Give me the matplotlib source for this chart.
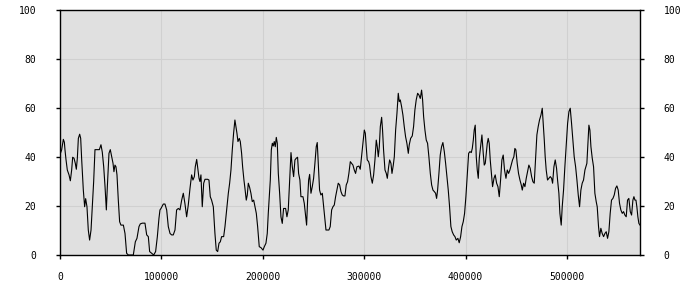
import matplotlib
matplotlib.use("Agg")
import matplotlib.pyplot as plt
import numpy as np

# x positions in thousands
time_k = [
 0, 1.6, 3.3, 4.3, 4.9, 5.9, 7.2, 8.9, 10.2, 11.5, 12.5, 13.8, 15.1, 16.1, 17.1, 18.1, 19.4, 20.4, 21.4, 23.0,
 24.3, 25.3, 26.6, 27.9, 29.2, 30.6, 31.9, 33.2, 34.5, 36.5, 38.8, 40.4, 41.7, 43.1, 44.4, 45.7, 46.7, 48.3, 49.6, 51.0,
 52.3, 53.2, 54.2, 55.2, 56.2, 57.5, 58.8, 60.1, 62.5, 64.1, 65.7, 67.4, 72.3, 74.3, 75.9, 77.9, 79.2, 81.2, 83.8, 85.5,
 87.1, 88.4, 90.4, 92.4, 94.3, 96.0, 97.6,
 98.6, 99.6, 101.9, 103.5, 105.2, 106.8, 108.5, 110.1, 111.7, 113.4, 115.0, 116.7, 118.3, 120.0, 121.6, 123.2, 124.9,
 126.5, 128.2, 129.8, 131.1, 132.5, 133.4, 134.8, 135.7, 137.1, 138.0, 139.0, 140.3, 141.7, 143.0, 145.6, 146.9, 148.2,
 149.5, 151.2, 152.8, 154.1, 155.5, 156.8, 158.1, 159.4, 161.4, 162.7, 164.3, 166.0, 167.3, 168.6, 169.9, 171.2, 172.5,
 173.5, 174.5, 175.5, 176.8, 177.8, 179.1, 180.1, 181.4, 182.4, 183.7, 184.7, 185.7, 187.0, 188.3, 189.6, 191.0, 192.3,
 193.6, 194.9,
 196.5, 198.2, 200.2, 201.5, 203.1, 204.4, 205.4, 206.4, 207.4, 208.4, 209.4, 210.3, 211.3, 212.3, 213.3, 214.3, 215.3,
 216.6, 217.9, 219.2, 220.5, 222.5, 223.8, 225.1, 226.5, 227.8, 229.1, 230.4, 231.7, 233.0, 234.3, 235.3, 236.6, 237.6,
 239.6, 240.9, 242.2, 243.2, 244.2, 245.2, 246.2, 247.5, 248.8, 250.1, 251.4, 252.7, 253.7, 254.7, 256.0, 257.3, 258.7,
 260.0, 261.3, 262.3, 265.2, 266.5, 267.9, 269.2, 270.5, 271.8, 273.1, 274.4, 275.8, 277.1, 278.4, 279.7, 281.0, 282.3,
 283.6, 284.9, 286.3, 287.6, 288.9, 290.2, 291.5,
 292.8, 294.8, 296.1, 297.4, 298.8, 300.1, 301.1, 302.0, 303.0, 304.4, 305.3, 306.6, 308.0, 309.3, 310.6, 311.9, 312.9,
 313.9, 314.9, 315.9, 317.2, 318.1, 319.1, 320.5, 321.8, 322.8, 324.1, 325.1, 326.4, 327.4, 328.7, 329.7, 331.0, 332.3,
 333.6, 334.6, 335.6, 336.9, 338.2, 339.5, 340.8, 342.1, 343.5, 344.4, 345.8, 347.4, 348.7, 350.0, 351.3, 352.7, 354.0,
 355.3, 356.6, 357.6, 358.6, 359.9, 361.2, 362.5, 363.8, 365.2, 366.5, 367.8, 369.1, 370.4, 371.4, 372.4, 373.7, 375.0,
 376.3, 377.6, 379.0, 380.3, 381.6, 382.9, 384.2, 385.5, 386.8, 388.2, 389.5, 390.8,
 392.4, 393.7, 395.1, 396.4, 397.7, 399.0, 400.3, 401.6, 403.0, 404.3, 405.6, 406.6, 407.6, 408.5, 409.5, 410.5, 411.5,
 412.5, 413.5, 414.8, 416.1, 417.4, 418.4, 419.4, 420.4, 421.4, 422.3, 423.3, 424.3, 425.6, 426.6, 428.0, 429.2, 430.6,
 431.9, 433.2, 434.5, 435.8, 437.1, 438.4, 439.8, 441.1, 442.4, 443.7, 445.0, 446.3, 447.6, 448.6, 449.6, 450.9, 452.2,
 453.6, 454.9, 455.9, 457.2, 458.5, 459.8, 461.1, 462.4, 463.7, 465.1, 466.4, 467.7, 469.0, 470.3, 471.6, 472.9, 474.3,
 475.6, 476.6, 477.6, 478.5, 479.5, 480.8, 482.2, 483.5, 484.8, 485.8, 487.1, 488.4, 489.7,
 490.7, 492.0, 493.0, 494.3, 495.3, 496.6, 497.9, 499.2, 500.6, 501.9, 503.2, 504.5, 505.8, 507.1, 508.5, 509.8, 511.1,
 512.4, 513.7, 515.0, 516.3, 517.7, 518.6, 519.6, 520.6, 521.6, 522.6, 523.6, 524.9, 526.2, 527.5, 528.8, 529.8, 531.1,
 532.1, 533.4, 534.7, 536.1, 537.4, 538.7, 540.0, 541.3, 542.6, 543.9, 545.3, 546.6, 547.9, 549.2, 550.5, 551.8, 553.1,
 554.5, 555.8, 557.1, 558.4, 559.7, 561.0, 562.4, 563.7, 565.0, 566.0, 567.0, 568.0, 568.9, 569.9, 570.9, 572.0,
]

values = [
 41, 42.9, 47.2, 46, 43, 39, 34.7, 32.7, 30.3, 34.7, 39.9, 39.5, 37.4, 35, 39.5, 47.6, 49.3, 47.6, 38.8, 26.5,
 19.7, 23, 19.7, 10.2, 6.1, 10.2, 19.7, 30, 43, 43, 43, 45, 42, 36, 28, 18.4, 28, 41.5, 43, 40,
 37.4, 34, 36.7, 36, 32.7, 22.4, 13.6, 12.2, 12.2, 8.8, 0.7, 0, 0, 5.4, 6.8, 11.6, 12.7, 13, 13, 8.2,
 7.5, 1.4, 0.7, 0, 1.4, 7.5, 15,
 18.4, 19, 20.8, 20.8, 18.4, 11.6, 8.8, 8.2, 8.2, 10.2, 18.4, 19, 18.4, 22.4, 25.2, 21, 15.6,
 20.4, 27.2, 32.7, 30.6, 32, 36, 39, 36, 31.3, 30, 32.7, 19.7, 29.3, 30.9, 30.9, 30.6, 23.8,
 22.4, 19.7, 8.8, 2, 1.4, 4.8, 5.4, 7.5, 7.5, 11.6, 18.4, 25.2, 29.3, 34.7, 42.9, 49.7, 55.1,
 52.4, 49.7, 46.3, 47.6, 46.3, 41.5, 36, 30.6, 27.2, 22.4, 24.5, 29.3, 27.6, 25.2, 21.8, 22.4, 19.7,
 17, 11.6,
 3.4, 3, 2, 3.4, 4.8, 8.8, 17, 23.8, 30.6, 42.9, 45.6, 44.5, 46.3, 44.2, 48, 45.6, 33.3,
 25.2, 15.6, 12.9, 19, 19, 15.6, 18.4, 30.6, 41.8, 36, 32, 38.8, 39.5, 39.9, 33.3, 30.6, 23.8,
 23.8, 21.1, 15.9, 12.2, 22.4, 30.6, 32.9, 25.2, 27.9, 31.3, 37.4, 44.2, 45.9, 37.4, 26.5, 24.5, 25.2,
 19.7, 14.3, 10.2, 10.2, 11.6, 18.4, 19.7, 20.4, 23.8, 26.5, 29.3, 28.6, 25.9, 24.5, 24.1, 24.1, 28.6,
 29.9, 33.3, 38.1, 37.4, 36.7, 34.7, 33.3,
 36, 36.3, 35, 40.1, 45.6, 51, 49.7, 44.2, 38.8, 38.1, 36.7, 32, 29.3, 32.7, 38.8, 46.9, 44.2,
 40.1, 44.2, 52.4, 56.2, 51, 42.9, 34.7, 33.3, 31.3, 36, 38.8, 37.4, 33.3, 36.7, 40.1, 51, 57.8,
 66, 62.6, 63.3, 60.5, 57.1, 52.4, 48.3, 45.6, 41.5, 44.9, 47.6, 48.6, 52.4, 59.2, 63.3, 66, 65.3,
 63.9, 67.3, 63.3, 56.5, 51, 46.9, 45.6, 40.1, 33.3, 28.6, 26.5, 25.9, 25.2, 23.1, 26.5, 33.3, 40.8,
 44.2, 45.9, 42.2, 37.4, 32, 26.5, 19.7, 11.6, 9.5, 8.2, 7.5, 6.1,
 6.8, 5, 7.5, 11.6, 13.6, 17, 23.8, 32, 41.5, 42.2, 41.8, 43.5, 46.9, 51, 53, 40.1, 34.7,
 31.3, 39.5, 44.2, 49, 41.5, 36.7, 37.4, 41.5, 45.6, 47.6, 45.6, 38.8, 32.7, 27.9, 31.3, 32.7, 29.3,
 27.9, 23.8, 30.6, 38.8, 40.8, 34.7, 31.3, 34.7, 33.3, 34.7, 36.7, 38.8, 40.1, 43.5, 42.9, 37.4, 33.3,
 30.6, 28.6, 26.5, 29.3, 27.9, 31.3, 34, 36.7, 35.4, 32, 29.9, 29.3, 38.8, 49, 52.4, 55.1, 57.1,
 59.9, 53.7, 46.9, 40.1, 34.7, 30.6, 31.3, 32, 31.3, 29.3, 36, 38.8, 35.4,
 30.6, 25.2, 17, 12.2, 19.7, 26.5, 36, 44.2, 53.7, 58.5, 59.9, 53.7, 46.9, 40.1, 36, 30.6, 24.5,
 19.7, 26.5, 29.3, 30.6, 34.7, 36, 37.4, 45.6, 53, 51, 44.2, 39.5, 36, 25.2, 21.8, 19.7, 11.6,
 7.5, 10.9, 8.8, 7.5, 8.8, 9.5, 6.8, 9.5, 17, 22.4, 23.1, 24.5, 27.2, 28.2, 26.5, 21.1, 18.4,
 17, 17.7, 16.3, 15.6, 22.4, 23.1, 17.7, 16.3, 22.4, 23.8, 22.4, 22.4, 19.7, 15.6, 12.9, 12.2,
]

x_ticks = [0, 100000, 200000, 300000, 400000, 500000]
y_ticks = [0, 20, 40, 60, 80, 100]

x = np.array(time_k) * 1000

fig = plt.figure(figsize=(7, 3), dpi=100)
fig.patch.set_facecolor("white")
ax = fig.add_axes([60/700, 45/300, 580/700, 245/300])
ax.set_facecolor("#e0e0e0")
ax.plot(x, values, color="black", lw=0.8)
ax.set_xlim(0, 572000)
ax.set_ylim(0, 100)
ax.set_xticks(x_ticks)
ax.set_xticklabels([str(t) for t in x_ticks])
ax.set_yticks(y_ticks)
ax.set_yticklabels([str(t) for t in y_ticks])
ax.grid(True, color="#d0d0d0", lw=0.8)
ax.set_axisbelow(True)
for s in ax.spines.values():
    s.set_color("black")
    s.set_linewidth(1.0)
ax.tick_params(axis="y", which="both", direction="out", length=3, width=1,
               left=True, right=True, labelleft=True, labelright=True,
               pad=14, labelsize=7, colors="black")
ax.tick_params(axis="x", direction="out", length=3, width=1, pad=9, labelsize=7)
for lab in ax.get_xticklabels() + ax.get_yticklabels():
    lab.set_fontfamily("DejaVu Sans Mono")
fig.savefig("out.png", dpi=100)
